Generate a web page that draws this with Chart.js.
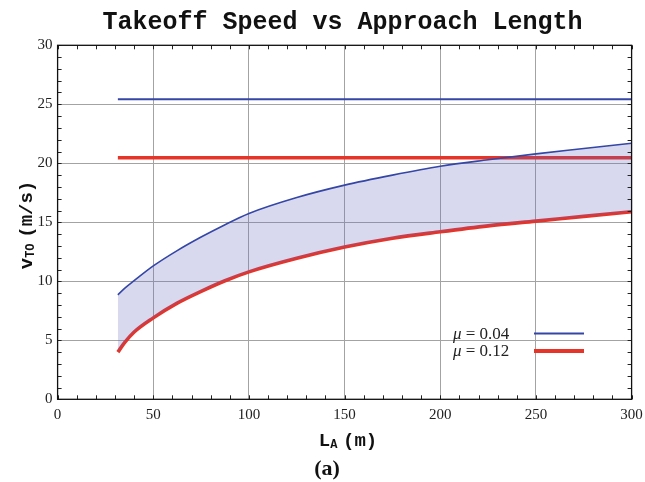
<!DOCTYPE html>
<html>
<head>
<meta charset="utf-8">
<script src="https://cdn.jsdelivr.net/npm/chart.js@4/dist/chart.umd.min.js"></script>
<style>
    body { margin: 0; background: #fff; }
    #wrap { width: 645px; height: 482px; }
</style>
</head>
<body>
<div id="wrap"><canvas id="speedchart" width="645" height="482"></canvas></div>
<script>
// approach length L_A (m)
const lengths = [31.5, 35, 40, 50, 62.5, 75, 87.5, 100, 125, 150, 175, 200, 225, 250, 275, 300];
// takeoff speed (m/s) along the approach
const speedLowMu = [8.85, 9.4, 10.05, 11.3, 12.6, 13.75, 14.8, 15.75, 17.1, 18.15, 19.0, 19.75, 20.3, 20.8, 21.25, 21.7];
const speedHighMu = [4.0, 4.8, 5.7, 6.9, 8.15, 9.15, 10.05, 10.8, 11.95, 12.9, 13.65, 14.2, 14.7, 15.1, 15.5, 15.9];
// limiting speeds for each friction coefficient
const limitSpeeds = [25.42, 20.47];
const limitRange = [31.5, 300];
const muLabels = ['0.04', '0.12'];
const xTicks = [0, 50, 100, 150, 200, 250, 300];
const yTicks = [0, 5, 10, 15, 20, 25, 30];

const BLUE = 'rgb(52, 70, 166)';
const RED = 'rgb(230, 52, 40)';
const MONO = '"Liberation Mono", "Courier New", monospace';
const SERIF = '"Liberation Serif", "Times New Roman", serif';

function toPoints(xs, ys) {
    return xs.map(function(x, i) { return { x: x, y: ys[i] }; });
}

function flatLine(v) {
    return limitRange.map(function(x) { return { x: x, y: v }; });
}

// text like v_TO (m/s): main letter, subscript, then the rest
function drawSubLabel(ctx, main, sub, rest, cx, baseline, size) {
    const bigFont = 'bold ' + size + 'px ' + MONO;
    const smallFont = 'bold ' + Math.round(size * 0.62) + 'px ' + MONO;
    ctx.font = bigFont;
    const wMain = ctx.measureText(main).width;
    const wRest = ctx.measureText(rest).width;
    ctx.font = smallFont;
    const wSub = ctx.measureText(sub).width;
    const gap = size * 0.3;
    let x = cx - (wMain + wSub + gap + wRest) / 2;
    ctx.textAlign = 'left';
    ctx.textBaseline = 'alphabetic';
    ctx.font = bigFont;
    ctx.fillText(main, x, baseline);
    x += wMain;
    ctx.font = smallFont;
    ctx.fillText(sub, x, baseline + size * 0.12);
    x += wSub + gap;
    ctx.font = bigFont;
    ctx.fillText(rest, x, baseline);
}

const frameAndLabels = {
    id: 'frameAndLabels',
    afterDraw(chart) {
        const ctx = chart.ctx;
        const a = chart.chartArea;
        const xs = chart.scales.x;
        const ys = chart.scales.y;
        ctx.save();

        // minor ticks on all four sides
        ctx.strokeStyle = '#222';
        ctx.lineWidth = 1;
        ctx.beginPath();
        for (let v = 0; v <= 300; v += 10) {
            const px = Math.round(xs.getPixelForValue(v)) + 0.5;
            ctx.moveTo(px, a.bottom); ctx.lineTo(px, a.bottom - 4);
            ctx.moveTo(px, a.top); ctx.lineTo(px, a.top + 4);
        }
        for (let v = 0; v <= 30; v += 1) {
            const py = Math.round(ys.getPixelForValue(v)) + 0.5;
            ctx.moveTo(a.left, py); ctx.lineTo(a.left + 4, py);
            ctx.moveTo(a.right, py); ctx.lineTo(a.right - 4, py);
        }
        ctx.stroke();

        // frame
        ctx.strokeStyle = '#111';
        ctx.lineWidth = 1.3;
        ctx.strokeRect(a.left, a.top, a.width, a.height);

        // title
        ctx.fillStyle = '#111';
        ctx.font = 'bold 25px ' + MONO;
        ctx.textAlign = 'center';
        ctx.textBaseline = 'alphabetic';
        ctx.fillText('Takeoff Speed vs Approach Length', 342.5, 29);

        // legend
        const legendColors = [BLUE, RED];
        const legendWidths = [2.2, 4];
        const rows = [333.5, 351];
        ctx.fillStyle = '#222';
        ctx.textBaseline = 'middle';
        for (let i = 0; i < muLabels.length; i++) {
            let x = 453;
            ctx.font = 'italic 17px ' + SERIF;
            ctx.textAlign = 'left';
            ctx.fillText('\u03bc', x, rows[i] + 1);
            x += ctx.measureText('\u03bc').width;
            ctx.font = '17px ' + SERIF;
            ctx.fillText(' = ' + muLabels[i], x, rows[i] + 1);
            ctx.strokeStyle = legendColors[i];
            ctx.lineWidth = legendWidths[i];
            ctx.beginPath();
            ctx.moveTo(534, rows[i]);
            ctx.lineTo(584, rows[i]);
            ctx.stroke();
        }

        // axis titles
        ctx.fillStyle = '#111';
        drawSubLabel(ctx, 'L', 'A', '(m)', 348, 446, 19);
        ctx.save();
        ctx.translate(32, 225);
        ctx.rotate(-Math.PI / 2);
        drawSubLabel(ctx, 'v', 'TO', '(m/s)', 0, 0, 19);
        ctx.restore();

        // panel tag
        ctx.font = 'bold 22px ' + SERIF;
        ctx.textAlign = 'center';
        ctx.textBaseline = 'alphabetic';
        ctx.fillText('(a)', 327, 475);

        ctx.restore();
    }
};

function createSpeedChart() {
    const ctx = document.querySelector('#speedchart').getContext('2d');

    const configuration = {
        type: 'line',
        data: {
            datasets: [
                {
                    data: toPoints(lengths, speedLowMu),
                    borderColor: BLUE,
                    borderWidth: 1.6,
                    backgroundColor: 'rgba(100, 100, 190, 0.25)',
                    fill: '+1',
                    cubicInterpolationMode: 'monotone',
                    pointRadius: 0
                },
                {
                    data: toPoints(lengths, speedHighMu),
                    borderColor: RED,
                    borderWidth: 3.6,
                    fill: false,
                    cubicInterpolationMode: 'monotone',
                    pointRadius: 0
                },
                {
                    data: flatLine(limitSpeeds[0]),
                    borderColor: BLUE,
                    borderWidth: 2,
                    fill: false,
                    pointRadius: 0
                },
                {
                    data: flatLine(limitSpeeds[1]),
                    borderColor: RED,
                    borderWidth: 3.6,
                    fill: false,
                    pointRadius: 0
                }
            ]
        },
        options: {
            responsive: false,
            animation: false,
            layout: {
                padding: { left: 0, right: 13.4, top: 45.3, bottom: 0 }
            },
            plugins: {
                legend: { display: false },
                tooltip: { enabled: false },
                title: { display: false }
            },
            scales: {
                x: {
                    type: 'linear',
                    min: 0,
                    max: 300,
                    afterBuildTicks: function(scale) {
                        scale.ticks = xTicks.map(function(v) { return { value: v }; });
                    },
                    afterFit: function(scale) {
                        scale.height = 82.7;
                        scale.paddingLeft = 0;
                        scale.paddingRight = 0;
                    },
                    grid: { color: '#a3a3a3', lineWidth: 1, drawTicks: false },
                    border: { display: false },
                    ticks: {
                        padding: 7,
                        color: '#222',
                        font: { family: SERIF, size: 15 }
                    }
                },
                y: {
                    type: 'linear',
                    min: 0,
                    max: 30,
                    afterBuildTicks: function(scale) {
                        scale.ticks = yTicks.map(function(v) { return { value: v }; });
                    },
                    afterFit: function(scale) {
                        scale.width = 57.6;
                        scale.paddingTop = 0;
                        scale.paddingBottom = 0;
                    },
                    grid: { color: '#a3a3a3', lineWidth: 1, drawTicks: false },
                    border: { display: false },
                    ticks: {
                        padding: 5,
                        color: '#222',
                        font: { family: SERIF, size: 15 }
                    }
                }
            }
        },
        plugins: [frameAndLabels]
    };

    new Chart(ctx, configuration);
}

createSpeedChart();
</script>
</body>
</html>
